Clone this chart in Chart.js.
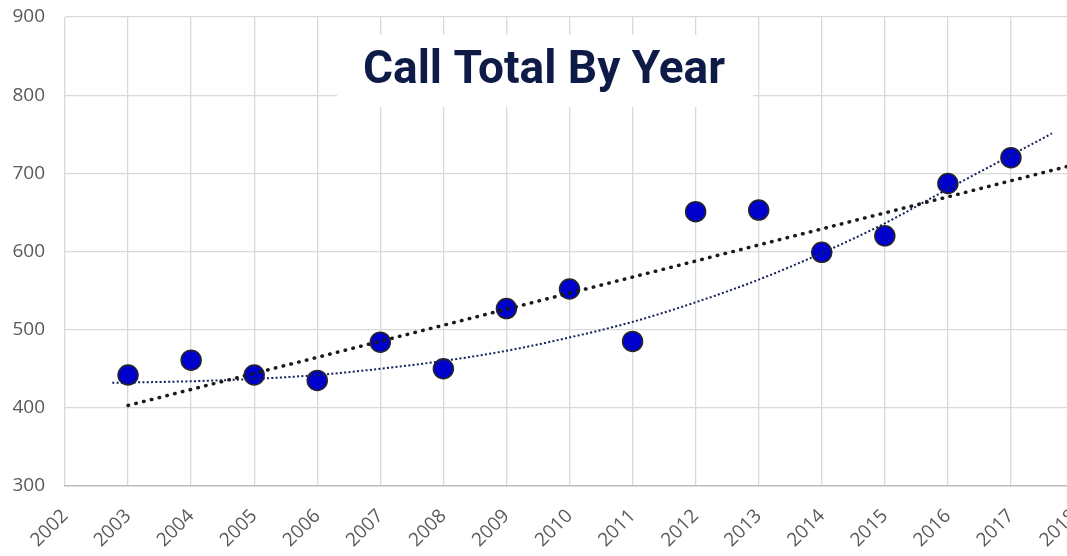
<!DOCTYPE html>
<html>
<head>
<meta charset="utf-8">
<script src="https://cdn.jsdelivr.net/npm/chart.js@4/dist/chart.umd.min.js"></script>
<style>
  html, body { margin: 0; padding: 0; background: #fff; overflow: hidden; }
  #wrap { width: 1088px; height: 556px; }
</style>
</head>
<body>
<div id="wrap"><canvas id="grafic"></canvas></div>
<script>
// Dades
const title = 'Call Total By Year';
const years = [2003, 2004, 2005, 2006, 2007, 2008, 2009, 2010, 2011, 2012, 2013, 2014, 2015, 2016, 2017];
const calls = [442, 461, 442, 435, 484, 450, 527, 552, 485, 651, 653, 599, 620, 687, 720];

// Linia de tendencia lineal (llegida del grafic)
const linYears = [2003, 2018];
const linValues = [403, 711];

// Linia de tendencia polinomica (llegida del grafic)
const polyYears = [2002.75, 2004, 2005, 2006, 2007, 2008, 2009, 2010, 2011, 2012, 2013, 2014, 2015, 2016, 2017, 2017.65];
const polyValues = [432, 434, 437, 442, 450, 460, 473, 490, 510, 535, 564, 598, 636, 680, 723, 751];

const toXY = (xs, ys) => xs.map((x, i) => ({ x: x, y: ys[i] }));

// Caixa blanca amb el titol
const titleBox = {
  id: 'titleBox',
  beforeDatasetsDraw(chart) {
    const ctx = chart.ctx;
    ctx.save();
    ctx.fillStyle = '#ffffff';
    ctx.fillRect(337, 35, 416, 72);
    ctx.font = 'bold 46px Roboto';
    const w = ctx.measureText(title).width;
    ctx.translate(544, 83);
    ctx.scale(362 / w, 1);
    ctx.textAlign = 'center';
    ctx.textBaseline = 'alphabetic';
    ctx.fillStyle = '#0e1b47';
    ctx.fillText(title, 0, 0);
    ctx.restore();
  }
};

const tickFont = { family: 'Open Sans', size: 19 };

new Chart(document.getElementById('grafic'), {
  type: 'scatter',
  data: {
    datasets: [
      {
        label: 'Tendencia lineal',
        data: toXY(linYears, linValues),
        showLine: true,
        pointRadius: 0,
        borderColor: '#1a1a1a',
        borderWidth: 3.5,
        borderDash: [0.5, 7.5],
        borderCapStyle: 'round',
        fill: false
      },
      {
        label: 'Tendencia polinomica',
        data: toXY(polyYears, polyValues),
        showLine: true,
        pointRadius: 0,
        borderColor: '#13215a',
        borderWidth: 2,
        borderDash: [2, 2.3],
        cubicInterpolationMode: 'monotone',
        fill: false
      },
      {
        label: 'Calls',
        data: toXY(years, calls),
        pointRadius: 10,
        backgroundColor: '#0000cc',
        borderColor: '#262626',
        borderWidth: 1.5
      }
    ]
  },
  options: {
    responsive: true,
    maintainAspectRatio: false,
    animation: false,
    layout: { padding: { top: 17, right: 14, bottom: 0, left: 0 } },
    plugins: {
      legend: { display: false },
      tooltip: { enabled: false }
    },
    scales: {
      x: {
        type: 'linear',
        min: 2002,
        max: 2018,
        grid: { color: '#d9d9d9', lineWidth: 1.3, drawTicks: false },
        border: { color: '#bfbfbf', width: 1.5 },
        afterFit: (scale) => {
          scale.height = 70;
          scale.paddingLeft = 0;
          scale.paddingRight = 0;
        },
        ticks: {
          stepSize: 1,
          autoSkip: false,
          minRotation: 45,
          maxRotation: 45,
          padding: 19,
          color: '#595959',
          font: tickFont,
          callback: (v) => String(v)
        }
      },
      y: {
        min: 300,
        max: 900,
        grid: { color: '#d9d9d9', lineWidth: 1.3, drawTicks: false },
        border: { display: false },
        afterFit: (scale) => {
          scale.width = 65;
          scale.paddingTop = 0;
          scale.paddingBottom = 0;
        },
        ticks: {
          stepSize: 100,
          padding: 20,
          color: '#595959',
          font: tickFont
        }
      }
    }
  },
  plugins: [titleBox]
});
</script>
</body>
</html>
